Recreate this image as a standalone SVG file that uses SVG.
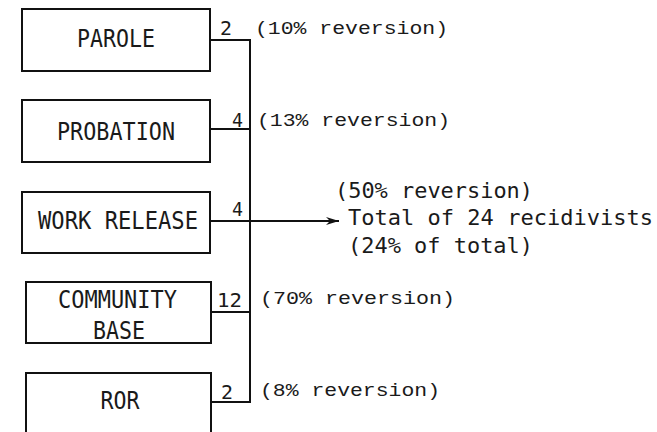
<svg xmlns="http://www.w3.org/2000/svg" width="657" height="432" viewBox="0 0 657 432">
<style>
.box{fill:none;stroke:#111;stroke-width:2}
.ln{fill:none;stroke:#111;stroke-width:2}
.lbl{font-family:"DejaVu Sans Mono","Liberation Mono",monospace;font-size:25px;fill:#1a1a1a;text-anchor:middle}
.num{font-family:"DejaVu Sans Mono","Liberation Mono",monospace;font-size:19px;fill:#1a1a1a}
.tw{font-family:"Liberation Mono","Courier New",monospace;font-size:19px;fill:#1a1a1a}
.res{font-family:"DejaVu Sans Mono","Liberation Mono",monospace;font-size:21px;fill:#1a1a1a}
</style>
<defs>
<marker id="arr" markerWidth="14" markerHeight="10" refX="13" refY="5" orient="auto" markerUnits="userSpaceOnUse">
<path d="M0,1 L13,5 L0,9 L4,5 z" fill="#111"/>
</marker>
</defs>
<rect width="657" height="432" fill="#fff"/>
<g id="parole">
<rect class="box" x="22" y="9" width="188" height="62"/>
<text class="lbl" x="116" y="47" textLength="78" lengthAdjust="spacingAndGlyphs">PAROLE</text>
</g>
<g id="probation">
<rect class="box" x="22" y="100" width="188" height="62"/>
<text class="lbl" x="116" y="140" textLength="118" lengthAdjust="spacingAndGlyphs">PROBATION</text>
</g>
<g id="work-release">
<rect class="box" x="22" y="192" width="188" height="61"/>
<text class="lbl" x="118" y="229" textLength="160" lengthAdjust="spacingAndGlyphs">WORK RELEASE</text>
</g>
<g id="community-base">
<rect class="box" x="26" y="282" width="185" height="61"/>
<text class="lbl" x="117.5" y="308" textLength="119" lengthAdjust="spacingAndGlyphs">COMMUNITY</text>
<text class="lbl" x="119" y="339" textLength="52" lengthAdjust="spacingAndGlyphs">BASE</text>
</g>
<g id="ror">
<rect class="box" x="26" y="373" width="185" height="70"/>
<text class="lbl" x="120" y="409" textLength="39" lengthAdjust="spacingAndGlyphs">ROR</text>
</g>
<g id="result">
<text class="res" x="335" y="198" textLength="198" lengthAdjust="spacingAndGlyphs">(50% reversion)</text>
<text class="res" x="348" y="225" textLength="305" lengthAdjust="spacingAndGlyphs">Total of 24 recidivists</text>
<text class="res" x="348" y="253" textLength="185" lengthAdjust="spacingAndGlyphs">(24% of total)</text>
</g>
<g id="connectors">
<path class="ln" d="M210,40 H250 V402 H211"/>
<path class="ln" d="M210,129 H250"/>
<path class="ln" d="M251,312 H211"/>
<path class="ln" d="M210,221 H339" marker-end="url(#arr)"/>
<text class="num" x="220" y="35" textLength="12" lengthAdjust="spacingAndGlyphs">2</text>
<text class="num" x="232" y="127" textLength="11" lengthAdjust="spacingAndGlyphs">4</text>
<text class="num" x="232" y="216" textLength="11" lengthAdjust="spacingAndGlyphs">4</text>
<text class="num" x="217" y="307" textLength="25" lengthAdjust="spacingAndGlyphs">12</text>
<text class="num" x="221" y="399" textLength="12" lengthAdjust="spacingAndGlyphs">2</text>
<text class="tw" x="255" y="34" textLength="193" lengthAdjust="spacingAndGlyphs">(10% reversion)</text>
<text class="tw" x="257" y="126" textLength="193" lengthAdjust="spacingAndGlyphs">(13% reversion)</text>
<text class="tw" x="260" y="304" textLength="195" lengthAdjust="spacingAndGlyphs">(70% reversion)</text>
<text class="tw" x="260" y="396" textLength="180" lengthAdjust="spacingAndGlyphs">(8% reversion)</text>
</g>
</svg>
